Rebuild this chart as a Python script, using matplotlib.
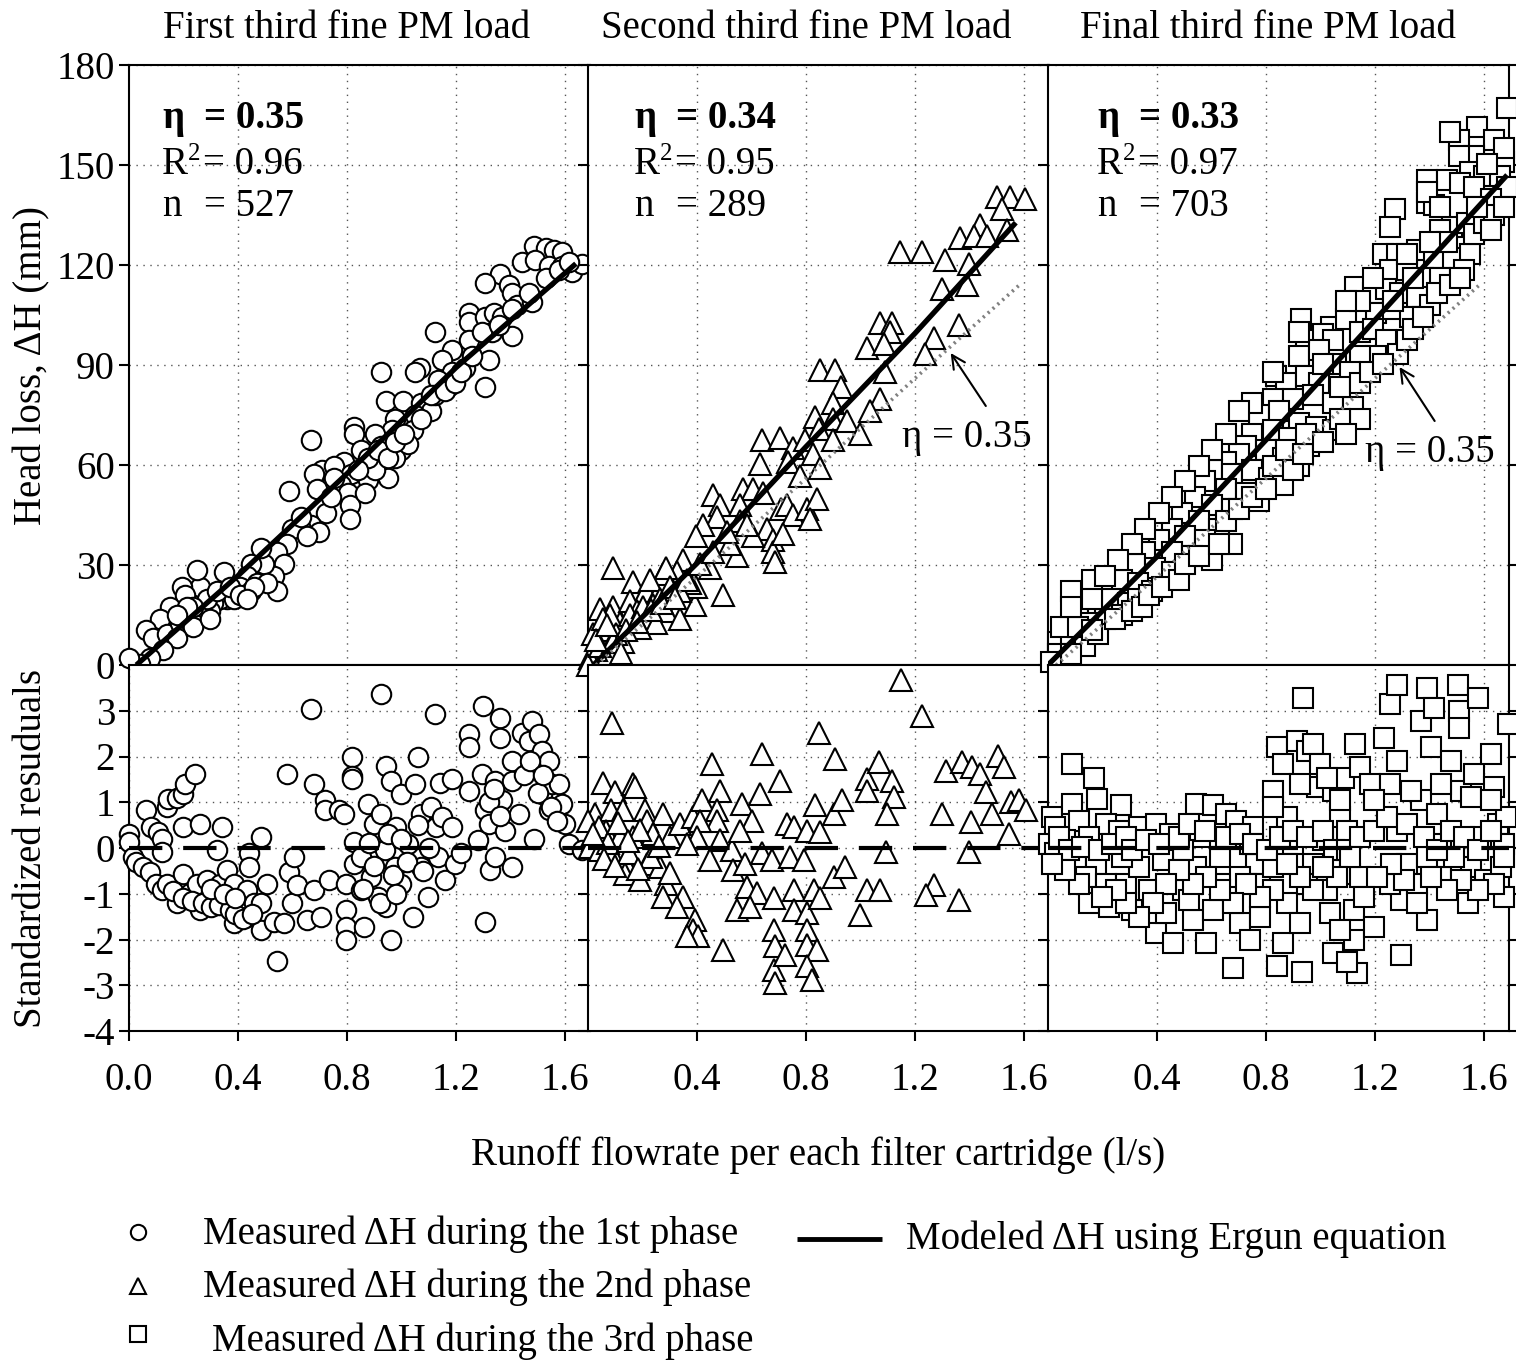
import matplotlib
matplotlib.use('Agg')
import matplotlib.pyplot as plt

plt.rcParams['font.family'] = ['Liberation Serif', 'DejaVu Serif']
plt.rcParams['axes.unicode_minus'] = False

# ---------------- data ----------------
titles = ["First third fine PM load", "Second third fine PM load", "Final third fine PM load"]
eta_vals = ["0.35", "0.34", "0.33"]
r2_vals = ["0.96", "0.95", "0.97"]
n_vals = ["527", "289", "703"]

top_yticks = [0, 30, 60, 90, 120, 150, 180]
bot_yticks = [-4, -3, -2, -1, 0, 1, 2, 3]
xtick_first = [0.0, 0.4, 0.8, 1.2, 1.6]
xtick_other = [0.4, 0.8, 1.2, 1.6]

# phase 1 measured head loss (l/s, mm)
p1_q = [1.486, 1.529, 1.559, 1.590, 1.442, 1.490, 1.540, 1.590, 1.627, 1.664, 1.362, 1.307, 1.393, 1.406,
        1.246, 1.246, 1.307, 1.340, 1.368, 1.424, 1.480, 1.406, 1.332, 1.122, 1.246, 1.184, 1.147, 1.233,
        1.320, 1.307, 1.184, 1.135, 1.172, 1.067, 1.050, 0.925, 0.944, 1.005, 1.073, 1.110, 1.122, 1.048,
        0.975, 1.042, 0.966, 0.901, 0.827, 0.827, 0.925, 1.000, 0.975, 1.025, 0.950, 0.850, 0.790, 0.707,
        0.680, 0.753, 0.815, 0.876, 0.901, 0.778, 0.802, 0.810, 0.810, 0.865, 0.667, 0.587, 0.722, 0.667,
        0.698, 0.630, 0.600, 0.581, 0.544, 0.569, 0.532, 0.544, 0.495, 0.483, 0.446, 0.433, 0.409, 0.446,
        0.384, 0.359, 0.335, 0.310, 0.347, 0.261, 0.249, 0.193, 0.206, 0.150, 0.113, 0.064, 0.089, 0.138,
        0.187, 0.212, 0.249, 0.273, 0.298, 0.236, 0.175, 0.126, 0.076, 0.040, 0.000, 0.470, 0.507, 0.384,
        0.286, 0.322, 0.372, 0.409, 0.458, 0.433, 0.236, 0.212, 0.175, 0.298, 0.876, 0.913, 0.950, 0.975,
        1.010, 1.073, 1.110, 1.160, 1.197, 1.220, 1.259, 1.295, 1.357, 1.406, 1.467, 1.529, 1.578, 1.615,
        0.753, 0.840, 0.690, 0.740, 0.630, 0.655]
p1_dh = [125.6, 125.0, 124.5, 123.9, 121.0, 121.5, 119.8, 119.8, 118.0, 120.4, 117.4, 114.5, 113.9, 111.5,
         105.6, 103.0, 104.5, 105.6, 104.5, 108.0, 109.0, 98.6, 99.8, 99.8, 97.4, 94.5, 91.5, 89.2,
         91.5, 83.3, 88.0, 85.6, 83.3, 89.2, 88.0, 88.0, 79.2, 79.2, 78.6, 76.2, 80.9, 75.1,
         73.9, 70.4, 70.4, 69.2, 71.5, 69.2, 65.6, 64.5, 62.1, 66.2, 56.2, 64.5, 60.9, 58.6,
         57.4, 59.8, 57.4, 55.6, 58.6, 53.9, 51.5, 48.0, 43.9, 51.5, 67.4, 52.1, 45.6, 42.1,
         39.8, 40.9, 40.9, 36.2, 33.9, 30.4, 26.8, 22.1, 30.4, 35.1, 30.4, 26.8, 23.3, 22.1,
         20.9, 19.8, 19.8, 18.6, 28.0, 23.3, 28.6, 23.3, 20.9, 17.4, 13.9, 10.4, 8.0, 9.2,
         12.7, 13.9, 15.1, 17.4, 16.2, 11.5, 8.0, 4.5, 2.1, 0.4, 2.0, 24.5, 24.5, 19.8,
         19.8, 22.1, 23.3, 20.9, 23.3, 19.8, 17.4, 17.4, 15.1, 13.9, 62.1, 64.5, 62.1, 66.8,
         69.2, 73.9, 80.9, 82.1, 84.5, 88.0, 92.7, 99.8, 102.1, 106.8, 111.5, 116.2, 118.6, 121.0,
         56.2, 58.6, 52.7, 50.4, 44.5, 38.6]

# phase 1 standardized residuals
p1r_q = [0.000, 0.000, 0.015, 0.027, 0.052, 0.076, 0.100, 0.120, 0.064, 0.082, 0.107, 0.120, 0.120, 0.138,
         0.144, 0.175, 0.199, 0.205, 0.242, 0.199, 0.261, 0.340, 0.138, 0.175, 0.199, 0.224, 0.261, 0.250,
         0.286, 0.310, 0.323, 0.335, 0.360, 0.384, 0.360, 0.397, 0.409, 0.384, 0.433, 0.433, 0.440, 0.440,
         0.483, 0.458, 0.483, 0.483, 0.507, 0.532, 0.569, 0.544, 0.581, 0.587, 0.605, 0.600, 0.618, 0.655,
         0.704, 0.667, 0.679, 0.679, 0.720, 0.720, 0.733, 0.770, 0.788, 0.795, 0.795, 0.795, 0.795, 0.820,
         0.820, 0.820, 0.827, 0.827, 0.852, 0.864, 0.876, 0.888, 0.900, 0.913, 0.925, 0.925, 0.938, 0.944,
         0.944, 0.963, 0.963, 0.975, 0.980, 1.000, 1.000, 1.024, 1.043, 1.050, 1.060, 1.073, 1.073, 1.098,
         1.110, 1.122, 1.128, 1.135, 1.140, 1.147, 1.160, 1.184, 1.184, 1.196, 1.220, 1.246, 1.246, 1.246,
         1.282, 1.300, 1.307, 1.294, 1.307, 1.320, 1.325, 1.344, 1.344, 1.362, 1.362, 1.368, 1.380, 1.405,
         1.405, 1.405, 1.430, 1.442, 1.467, 1.480, 1.485, 1.490, 1.505, 1.516, 1.541, 1.516, 1.541, 1.553,
         1.578, 1.590, 1.600, 1.615, 1.664,
         0.160, 0.200, 0.230, 0.270, 0.300, 0.330, 0.370, 0.390, 0.420, 0.450, 0.300, 0.350, 0.390,
         0.850, 0.880, 0.900, 0.950, 0.970, 1.000, 1.020, 1.060, 1.080, 1.100, 0.860, 0.920, 0.980,
         1.320, 1.340, 1.360, 1.450, 1.470, 1.500, 1.520, 1.550, 1.570]
p1_res = [0.31, 0.13, -0.20, -0.30, -0.41, -0.52, -0.78, -0.92, 0.82, 0.46, 0.35, 0.20, -0.09, 0.89,
          1.07, 1.10, 1.18, 1.40, 1.62, 0.46, 0.53, 0.46, -0.78, -1.21, -0.56, -0.99, -1.36, -0.78,
          -0.70, -1.21, -0.05, -0.78, -0.49, -0.78, -1.07, -1.21, -1.50, -1.64, -1.50, -0.92, -0.12, -0.41,
          0.24, -1.21, -1.21, -1.79, -0.78, -1.61, -1.64, -2.48, 1.62, -0.52, -0.20, -1.21, -0.81, -1.57,
          -1.50, 3.03, 1.40, -0.92, 1.04, 0.82, -0.70, 0.82, 0.75, -0.78, -1.36, -1.72, -2.01, 1.98,
          1.58, 1.51, 0.13, -0.34, -0.92, -1.72, 0.96, -0.63, 0.53, -1.07, 3.36, 0.75, -0.05, 1.80,
          -1.28, 1.47, -2.01, -0.41, 0.46, 1.18, -0.78, 0.09, -1.50, 1.40, 1.98, 0.75, -0.41, -1.07,
          0.89, 2.92, 0.46, -0.20, 1.43, 0.67, -0.70, 1.51, 0.46, -0.34, -0.12, 2.49, 2.20, 1.25,
          0.17, 3.10, -1.61, 1.62, 0.82, 0.53, -0.49, 1.47, -0.20, 2.85, 2.41, 1.04, 0.38, 1.91,
          1.47, -0.41, 0.75, 2.52, 2.34, 2.78, 0.20, 1.83, 2.49, 2.12, 1.91, 1.18, 0.82, 1.40,
          1.40, 0.96, 0.53, 0.09, -0.05,
          -0.95, -1.10, -1.15, -1.20, -1.30, -1.25, -1.35, -1.45, -1.55, -1.45, -0.90, -1.00, -1.10,
          -0.20, 0.10, -0.40, 0.30, -0.60, 0.20, -0.30, 0.50, -0.50, 0.00, -0.90, -1.20, -1.00,
          1.00, 1.30, 0.70, 1.60, 1.90, 1.20, 1.60, 0.90, 0.60]

# phase 2 measured head loss
p2_q = [1.501, 1.550, 1.605, 1.520, 1.440, 1.366, 1.415, 1.463, 1.537, 1.146, 1.225, 1.311, 1.397, 1.299,
        1.391, 1.360, 1.268, 1.237, 1.072, 1.115, 1.110, 1.023, 1.085, 1.090, 0.852, 0.907, 0.930, 0.900,
        0.900, 0.950, 1.072, 1.035, 0.998, 0.833, 0.846, 0.900, 0.637, 0.705, 0.753, 0.797, 0.827, 0.631,
        0.735, 0.778, 0.852, 0.460, 0.484, 0.570, 0.607, 0.557, 0.472, 0.557, 0.643, 0.710, 0.729, 0.754,
        0.803, 0.840, 0.815, 0.656, 0.680, 0.680, 0.686, 0.717, 0.545, 0.423, 0.398, 0.607, 0.582, 0.349,
        0.325, 0.276, 0.092, 0.165, 0.214, 0.251, 0.312, 0.392, 0.398, 0.496, 0.043, 0.092, 0.153, 0.178,
        0.116, 0.214, 0.239, 0.288, 0.337, 0.018, 0.067, 0.128, 0.031, 0.006, 0.000, 0.080, 0.250, 0.190,
        0.374, 0.447, 0.520, 0.288, 0.227, 0.055, 0.153, 0.104, 0.202, 0.263, 0.300, 0.337, 0.362, 0.410,
        0.460, 0.509, 0.043, 0.092, 0.140, 0.180, 0.230, 0.270, 0.320, 0.030, 0.070, 0.120]
p2_dh = [140.4, 140.4, 139.8, 136.8, 132.1, 128.0, 128.6, 128.6, 130.4, 123.9, 123.9, 121.5, 120.4, 112.7,
         113.9, 102.1, 98.0, 93.3, 102.7, 102.7, 99.8, 95.0, 96.2, 88.0, 88.6, 88.6, 83.3, 78.6,
         73.9, 73.3, 79.8, 76.2, 69.2, 74.5, 70.9, 67.4, 67.4, 68.0, 65.0, 67.4, 63.3, 60.4,
         60.9, 56.8, 59.2, 50.9, 48.0, 52.7, 52.7, 48.0, 44.5, 43.3, 51.5, 46.8, 48.0, 45.0,
         46.8, 49.8, 43.9, 40.9, 37.4, 33.9, 30.9, 39.2, 32.7, 42.1, 38.6, 38.6, 42.1, 31.5,
         28.0, 27.4, 29.2, 25.0, 22.1, 20.4, 22.1, 18.0, 23.3, 20.9, 16.8, 17.4, 19.2, 16.2,
         12.7, 13.9, 18.0, 16.2, 13.9, 9.2, 10.4, 6.8, 4.5, 2.1, 0.0, 15.0, 12.7, 11.0,
         24.5, 29.2, 36.2, 29.2, 25.6, 13.9, 15.1, 9.2, 17.4, 19.8, 23.3, 22.1, 25.6, 30.4,
         33.9, 39.8, 5.7, 6.8, 10.5, 13.0, 16.5, 18.5, 20.0, 7.5, 12.0, 3.5]

# phase 2 standardized residuals
p2r_q = [0.088, 0.055, 0.098, 0.166, 0.172, 0.025, 0.000, 0.086, 0.129, 0.209, 0.276, 0.215, 0.067, 0.018,
         0.006, 0.117, 0.166, 0.239, 0.300, 0.337, 0.386, 0.417, 0.454, 0.485, 0.472, 0.472, 0.410, 0.399,
         0.485, 0.362, 0.043, 0.092, 0.141, 0.135, 0.190, 0.215, 0.264, 0.288, 0.276, 0.350, 0.325, 0.392,
         0.386, 0.405, 0.362, 0.497, 0.448, 0.528, 0.564, 0.601, 0.558, 0.533, 0.577, 0.583, 0.620, 0.546,
         0.595, 0.638, 0.632, 0.638, 0.675, 0.681, 0.706, 0.730, 0.755, 0.742, 0.791, 0.804, 0.755, 0.755,
         0.681, 0.687, 0.681, 0.687, 0.724, 0.804, 0.804, 0.804, 0.840, 0.804, 0.822, 0.828, 0.853, 0.834,
         0.846, 0.853, 0.902, 0.902, 0.908, 0.932, 0.945, 0.999, 1.024, 1.024, 1.024, 1.067, 1.073, 1.116,
         1.123, 1.098, 1.092, 1.147, 1.227, 1.270, 1.239, 1.300, 1.313, 1.362, 1.374, 1.399, 1.405, 1.411,
         1.440, 1.460, 1.484, 1.503, 1.527, 1.546, 1.552, 1.583, 1.607,
         0.040, 0.075, 0.110, 0.150, 0.190, 0.230, 0.260, 0.300, 0.020, 0.060, 0.100, 0.145, 0.185]
p2_res = [2.74, 1.43, 1.22, 1.40, 1.33, 0.75, 0.60, 0.82, 0.82, 0.82, 0.75, 0.60, 0.38, 0.17,
          0.02, 0.24, 0.24, 0.31, 0.24, 0.53, 0.67, 1.04, 1.83, 1.25, 0.82, 0.60, 0.60, 0.24,
          0.17, 0.09, -0.05, -0.16, -0.34, -0.56, -0.70, -0.34, -0.41, -0.78, -1.07, -1.07, -1.28, -1.57,
          -1.79, -1.93, -1.93, -2.22, -0.27, -0.05, 0.96, 0.60, 0.38, -0.49, -0.34, -0.85, -0.99, -1.36,
          -1.28, 2.05, 1.18, -0.12, -0.27, -1.10, 1.47, 0.53, 0.46, -0.20, -0.27, 0.38, -0.92, -1.36,
          -1.79, -2.15, -2.66, -2.95, -2.33, -1.43, -1.79, -2.12, -2.22, -2.59, -2.88, -0.92, -1.10, 0.93,
          2.52, 0.35, 0.75, -0.63, 1.94, 1.04, -0.41, -1.46, 1.51, -0.92, 1.25, 1.87, -0.92, 1.47,
          1.11, 0.75, -0.09, 3.68, 2.88, -0.81, -1.03, 0.75, 1.69, -1.14, 1.87, -0.09, 0.57, 1.76,
          1.62, 1.22, 0.75, 2.01, 1.76, 0.31, 1.00, 1.04, 0.82,
          0.45, 0.10, 0.55, -0.10, 0.40, -0.20, 0.05, -0.55, 0.30, -0.25, -0.40, 0.15, -0.45]

# phase 3 measured head loss
p3_q = [1.683, 1.575, 1.507, 1.636, 1.562, 1.507, 1.673, 1.390, 1.464, 1.550, 1.600, 1.660, 1.685, 1.390,
        1.415, 1.513, 1.562, 1.624, 1.273, 1.255, 1.482, 1.538, 1.440, 1.230, 1.279, 1.353, 1.415, 1.488,
        1.550, 1.255, 1.316, 1.378, 1.440, 1.525, 1.125, 1.193, 1.242, 1.292, 1.353, 1.402, 1.205, 1.267,
        1.328, 0.929, 1.039, 1.095, 1.144, 0.947, 1.009, 1.045, 1.193, 1.242, 1.285, 1.205, 1.144, 0.922,
        0.996, 1.058, 1.107, 0.836, 0.873, 0.947, 0.996, 0.824, 0.898, 0.971, 1.045, 1.119, 1.144, 0.775,
        0.849, 0.922, 0.984, 1.045, 0.750, 0.824, 0.886, 0.959, 0.726, 0.800, 0.861, 0.922, 0.701, 0.652,
        0.603, 0.677, 0.750, 0.812, 0.861, 0.578, 0.652, 0.726, 0.775, 0.541, 0.603, 0.677, 0.492, 0.553,
        0.627, 0.677, 0.455, 0.504, 0.578, 0.406, 0.455, 0.529, 0.603, 0.357, 0.270, 0.320, 0.394, 0.455,
        0.270, 0.332, 0.381, 0.160, 0.086, 0.111, 0.185, 0.234, 0.295, 0.209, 0.148, 0.270, 0.037, 0.086,
        0.135, 0.185, 0.037, 0.086, 0.012, 0.332, 1.673, 1.476, 1.612, 1.390, 1.440,
        0.049, 0.111, 0.160, 0.246, 0.307, 0.344, 0.369, 0.418, 0.480, 0.504, 0.553, 0.627, 0.652, 0.701,
        0.750, 0.800, 0.824, 0.873, 0.898, 0.935, 0.947, 1.009, 1.070, 1.095, 1.070, 1.144, 1.181, 1.230,
        1.316, 1.340, 1.378, 1.427, 1.476, 1.513, 1.562, 1.600, 1.636, 1.673, 1.624, 1.574, 1.464, 1.402,
        1.316, 1.340, 1.193, 1.144, 1.095, 1.267, 0.922, 1.009, 0.824, 0.750, 0.701, 0.652, 0.603, 0.553,
        0.504, 0.455, 0.406, 0.357, 0.307, 0.258, 0.209, 0.160, 0.086]
p3_dh = [167.0, 161.5, 157.4, 157.4, 152.7, 152.7, 150.9, 145.6, 145.6, 148.0, 146.8, 146.8, 143.3, 138.6,
         138.0, 144.5, 143.3, 139.8, 136.8, 131.5, 131.5, 132.7, 130.4, 123.3, 123.3, 124.5, 122.1, 122.1,
         123.3, 118.6, 118.6, 116.2, 116.2, 118.6, 113.3, 111.5, 112.7, 111.5, 110.4, 108.0, 105.6, 106.8,
         104.5, 103.9, 101.5, 103.9, 99.8, 97.4, 99.2, 97.4, 100.9, 97.4, 93.3, 92.7, 92.7, 92.7,
         94.5, 90.4, 88.0, 86.8, 84.5, 86.8, 84.5, 79.8, 79.8, 80.9, 78.6, 77.4, 73.9, 75.1,
         76.2, 72.7, 71.5, 70.4, 69.2, 70.4, 68.0, 65.6, 65.6, 64.5, 62.1, 59.8, 63.3, 60.9,
         58.6, 57.4, 58.6, 56.2, 53.9, 55.1, 52.7, 51.5, 49.2, 50.4, 48.0, 46.8, 45.6, 43.3,
         40.9, 36.2, 40.9, 38.6, 37.4, 37.4, 33.9, 32.7, 31.5, 33.9, 29.2, 30.4, 29.2, 28.0,
         25.6, 24.5, 22.1, 25.6, 22.1, 16.2, 17.4, 19.8, 18.6, 13.9, 12.7, 15.1, 6.8, 8.0,
         5.7, 9.2, 3.3, 3.3, 0.9, 19.8, 155.0, 159.8, 150.4, 142.0, 137.4,
         11.5, 11.5, 10.4, 13.9, 16.2, 17.4, 20.9, 23.3, 25.6, 30.4, 32.7, 36.2, 43.3, 46.8,
         50.4, 52.7, 59.8, 64.5, 58.6, 63.3, 69.2, 66.8, 73.9, 69.2, 83.3, 84.5, 88.0, 90.4,
         97.4, 100.9, 104.5, 111.5, 113.9, 116.2, 129.2, 132.7, 135.1, 137.4, 130.4, 137.4, 126.8, 126.8,
         123.3, 116.2, 116.2, 109.2, 109.2, 109.2, 99.8, 90.4, 88.0, 78.6, 76.2, 69.2, 64.5, 59.8,
         55.1, 50.4, 45.6, 40.9, 36.2, 31.5, 26.8, 19.8, 17.4]

# phase 3 standardized residuals
p3r_q = [0.089, 0.170, 0.015, 0.089, 0.181, 0.267, 0.027, 0.113, 0.212, 0.002, 0.064, 0.150, 0.261, 0.335,
         0.396, 0.446, 0.544, 0.605, 0.654, 0.691, 0.753, 0.101, 0.027, 0.175, 0.138, 0.212, 0.150, 0.224,
         0.286, 0.310, 0.335, 0.372, 0.396, 0.458, 0.433, 0.495, 0.532, 0.544, 0.581, 0.605, 0.630, 0.655,
         0.679, 0.703, 0.741, 0.765, 0.777, 0.827, 0.839, 0.863, 0.827, 0.839, 0.863, 0.876, 0.876, 0.913,
         0.937, 0.931, 0.900, 0.950, 0.974, 0.974, 0.987, 0.999, 1.011, 1.023, 1.035, 1.047, 1.047, 1.073,
         1.085, 1.097, 1.109, 1.122, 1.122, 1.134, 1.128, 1.146, 1.183, 1.196, 1.232, 1.256, 1.256, 1.282,
         1.282, 1.282, 1.294, 1.294, 1.319, 1.368, 1.368, 1.392, 1.392, 1.404, 1.417, 1.429, 1.441, 1.478,
         1.503, 1.509, 1.509, 1.515, 1.540, 1.577, 1.565, 1.590, 1.626, 1.638, 1.651, 1.675, 1.681, 1.687,
         1.675, 1.553, 1.441, 1.356, 1.602, 1.146, 1.256, 1.392, 1.491, 1.663, 0.741, 0.557, 0.495, 0.421,
         0.273, 0.704, 0.519, 0.777, 0.950, 0.925, 1.072, 1.097,
         0.039, 0.076, 0.125, 0.187, 0.236, 0.285, 0.310, 0.359, 0.409, 0.482, 0.519, 0.578, 0.655, 0.704,
         0.753, 0.802, 0.851, 0.900, 0.949, 1.011, 1.048, 1.097, 1.146, 1.196, 1.245, 1.319, 1.380, 1.429,
         1.478, 1.528, 1.577, 1.626, 1.675, 1.638, 1.577, 1.515, 1.466, 1.405, 1.356, 1.306, 1.257, 1.208,
         1.159, 1.109, 1.060, 1.011, 0.974, 0.925, 0.876, 0.827, 0.777, 0.728, 0.679, 0.630, 0.581, 0.532,
         0.482, 0.433, 0.384, 0.335, 0.285, 0.249, 0.200, 0.113, 0.064, 0.015, 1.072, 1.196, 1.331, 1.553,
         1.626, 1.441, 0.827, 0.925, 1.023]
p3_res = [1.83, 1.54, 0.67, 0.96, 1.07, 0.93, 0.46, 0.60, 0.53, 0.09, 0.17, 0.24, 0.38, 0.46,
          0.53, 0.31, 0.96, 0.93, 0.75, 0.60, 0.46, -0.27, -0.12, -0.34, -0.63, -0.78, -1.21, -1.28,
          -0.78, -1.36, -0.41, -0.92, -1.86, -2.08, -1.43, -0.92, -1.57, -0.41, -2.08, -1.36, -0.20, -0.78,
          -2.62, -1.64, -2.01, -0.34, -0.78, -0.41, -2.59, -2.08, 1.25, 2.20, 1.83, 0.67, -1.21, 2.34,
          3.28, -2.70, 0.09, 2.12, 2.27, -0.34, 1.33, 1.83, 0.17, -0.92, -1.43, -2.30, 1.25, 0.67,
          1.54, 0.38, -0.56, -1.36, -2.01, -2.73, 2.27, 1.76, 1.40, -1.72, 2.41, 1.40, 3.14, 3.57,
          1.91, 0.38, -1.14, -2.33, -0.34, 2.78, 1.04, 3.50, -1.57, 2.20, 3.07, 0.75, 0.09, 1.91,
          3.57, 3.00, 2.63, 1.25, -1.21, 3.28, 1.62, 0.24, 2.05, 1.33, 0.53, -1.07, 0.67, 2.70,
          0.09, -0.41, -0.63, -0.78, -0.70, -0.63, -0.78, -0.20, -0.20, -0.41, 0.09, 0.24, -0.05, -0.27,
          -0.20, -0.63, -1.14, -1.50, -0.78, -1.64, -1.79, -2.50,
          0.24, -0.05, 0.02, -0.05, 0.09, 0.24, -0.05, 0.17, 0.09, 0.24, 0.53, 0.38, 0.24, 0.31,
          0.09, -0.05, 0.24, 0.38, 0.24, 0.38, -0.05, -0.05, 0.24, 0.38, 0.67, 0.53, 0.24, -0.05,
          0.38, 0.24, -0.05, 0.38, -0.20, -0.78, -0.92, -0.70, -0.92, -0.63, -1.21, -0.70, -0.34, -0.63,
          -1.07, -0.20, -0.63, -0.41, -0.92, -0.63, -0.34, -0.92, -1.07, -0.78, -1.21, -0.92, -0.63, -0.78,
          -0.49, -0.78, -1.21, -1.50, -1.21, -0.92, -1.07, -0.78, -0.49, -0.34, 1.04, 1.04, 1.25, 1.11,
          1.04, 1.40, 0.89, 1.40, 1.54]

# modeled head loss (Ergun)
m1_q = [0.027, 0.4, 0.8, 1.2, 1.64]
m1_dh = [0.0, 26.8, 57.4, 89.2, 120.4]
m2_q = [0.02, 0.4, 0.8, 1.2, 1.57]
m2_dh = [0.0, 30.5, 65.5, 99.5, 132.7]
m3_q = [0.0, 0.4, 0.8, 1.2, 1.685]
m3_dh = [0.0, 32.5, 67.5, 103.5, 147.0]
# reference curve with eta = 0.35 shown in panels 2 and 3
ref_q = [0.03, 0.4, 0.8, 1.2, 1.59]
ref_dh = [0.0, 26.5, 56.0, 86.0, 114.5]

# ---------------- figure ----------------
W, H = 1516, 1361
fig = plt.figure(figsize=(W / 100, H / 100), dpi=100)

def frac(x0, ytop, w, h):
    return [x0 / W, 1 - (ytop + h) / H, w / W, h / H]

lefts = [129, 588, 1048]
pw = 460.5
FS = 28
grid_kw = dict(color='#555555', linestyle=(0, (1, 4)), linewidth=1.0)

tops = [(p1_q, p1_dh, 'o', 14), (p2_q, p2_dh, '^', 16), (p3_q, p3_dh, 's', 14)]
bots = [(p1r_q, p1_res, 'o', 14), (p2r_q, p2_res, '^', 16), (p3r_q, p3_res, 's', 14)]
models = [(m1_q, m1_dh), (m2_q, m2_dh), (m3_q, m3_dh)]

for i in range(3):
    at = fig.add_axes(frac(lefts[i], 65, pw, 600))
    ab = fig.add_axes(frac(lefts[i], 665, pw, 366))
    for ax in (at, ab):
        ax.set_xlim(0, 1.69)
        for s in ax.spines.values():
            s.set_linewidth(1.5)
        ax.set_axisbelow(True)
        ax.grid(True, **grid_kw)
    # top panel
    q, dh, mk, ms = tops[i]
    at.plot(q, dh, linestyle='none', marker=mk, ms=ms, mfc='white', mec='black', mew=1.5,
            clip_on=False, zorder=3)
    mq, mdh = models[i]
    at.plot(mq, mdh, color='black', lw=3.8, zorder=5, solid_capstyle='butt')
    if i > 0:
        at.plot(ref_q, ref_dh, color='#808080', lw=2.6, linestyle=(0, (0.6, 1.2)), zorder=6)
    at.set_ylim(0, 180)
    at.set_yticks(top_yticks)
    at.set_xticks(xtick_other)
    at.tick_params(axis='x', length=0, labelbottom=False)
    at.tick_params(axis='y', direction='out', length=7, width=1.5, labelsize=FS, pad=3,
                   labelleft=(i == 0))
    # bottom panel
    q, rr, mk, ms = bots[i]
    ab.plot(q, rr, linestyle='none', marker=mk, ms=ms, mfc='white', mec='black', mew=1.5,
            clip_on=False, zorder=3)
    ab.axhline(0, color='black', lw=3, linestyle=(0, (8, 5)), zorder=5)
    ab.set_ylim(-4, 4)
    ab.set_yticks(bot_yticks)
    xt = xtick_first if i == 0 else xtick_other
    ab.set_xticks(xt)
    ab.set_xticklabels(['%.1f' % v for v in xt])
    ab.tick_params(axis='x', direction='out', length=7, width=1.5, labelsize=FS, pad=15)
    ab.tick_params(axis='y', direction='out', length=7, width=1.5, labelsize=FS, pad=3,
                   labelleft=(i == 0))
    if i == 2:
        for ax in (at, ab):
            ax.tick_params(axis='y', right=True)
    if i == 1:
        at.annotate('', xy=(1.331, 93.6), xytext=(1.46, 77.7),
                    arrowprops=dict(arrowstyle='->', lw=1.5, color='black', mutation_scale=24,
                                    shrinkA=0, shrinkB=0), zorder=7)
        at.text(1.154, 65.4, 'η = 0.35', fontsize=FS, va='baseline', ha='left', zorder=7)
    if i == 2:
        at.annotate('', xy=(1.29, 89.4), xytext=(1.419, 73.2),
                    arrowprops=dict(arrowstyle='->', lw=1.5, color='black', mutation_scale=24,
                                    shrinkA=0, shrinkB=0), zorder=7)
        at.text(1.165, 60.9, 'η = 0.35', fontsize=FS, va='baseline', ha='left', zorder=7)

# overlay in pixel coordinates for free text and legend
ov = fig.add_axes([0, 0, 1, 1], zorder=10)
ov.set_xlim(0, W)
ov.set_ylim(H, 0)
ov.axis('off')

title_x = [347, 806, 1268]
for i in range(3):
    ov.text(title_x[i], 28, titles[i], fontsize=FS, ha='center', va='center')

stat_x = [162, 634, 1097]
for i in range(3):
    x0 = stat_x[i]
    ov.text(x0, 128, 'η', fontsize=FS, fontweight='bold', va='baseline')
    ov.text(x0 + 42, 128, '= ' + eta_vals[i], fontsize=FS, fontweight='bold', va='baseline')
    ov.text(x0, 174, 'R', fontsize=FS, va='baseline')
    ov.text(x0 + 26, 160, '2', fontsize=18, va='baseline')
    ov.text(x0 + 41, 174, '= ' + r2_vals[i], fontsize=FS, va='baseline')
    ov.text(x0, 216, 'n', fontsize=FS, va='baseline')
    ov.text(x0 + 42, 216, '= ' + n_vals[i], fontsize=FS, va='baseline')

ov.text(32, 365, 'Head loss, ΔH (mm)', fontsize=FS, rotation=90, ha='center', va='center')
ov.text(32, 848, 'Standardized resuduals', fontsize=FS, rotation=90, ha='center', va='center')
ov.text(818, 1155, 'Runoff flowrate per each filter cartridge (l/s)', fontsize=FS,
        ha='center', va='center')

legend_labels = ['Measured ΔH during the 1st phase', 'Measured ΔH during the 2nd phase',
                 'Measured ΔH during the 3rd phase']
leg_mk = ['o', '^', 's']
leg_ms = [11, 12, 11]
leg_y = [1232, 1286, 1334]
leg_tx = [203, 203, 212]
leg_base = [1244, 1297, 1351]
for k in range(3):
    ov.plot([138], [leg_y[k]], marker=leg_mk[k], ms=leg_ms[k], mfc='white', mec='black', mew=1.5,
            linestyle='none', clip_on=False)
    ov.text(leg_tx[k], leg_base[k], legend_labels[k], fontsize=FS, va='baseline')
ov.plot([797, 882], [1239, 1239], color='black', lw=3.5, solid_capstyle='butt')
ov.text(906, 1249, 'Modeled ΔH using Ergun equation', fontsize=FS, va='baseline')

fig.savefig('out.png', dpi=100)
